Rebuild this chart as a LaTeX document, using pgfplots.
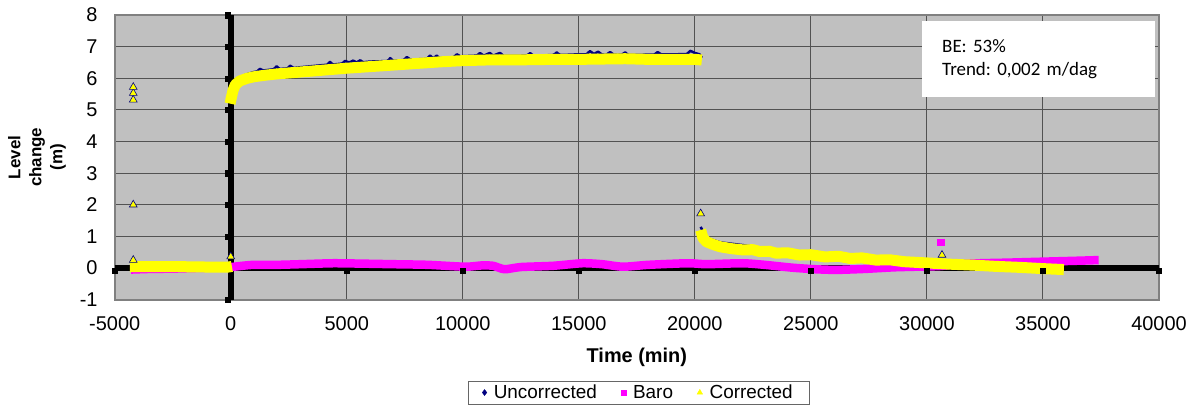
\documentclass[border=0pt]{standalone}
\usepackage{fontspec}
\setmainfont{Liberation Sans}
\newfontfamily\calibri{Carlito}
\usepackage{pgfplots}
\pgfplotsset{compat=1.18}
\definecolor{bggray}{HTML}{C0C0C0}
\definecolor{navyx}{HTML}{000080}
\definecolor{magx}{HTML}{FF00FF}
\definecolor{yelx}{HTML}{FFFF00}
\frenchspacing
\begin{document}
\begin{tikzpicture}[x=1bp,y=1bp]
\path[use as bounding box] (0,0) rectangle (1195,410);
\begin{axis}[
  at={(114.7bp,110.4bp)}, anchor=south west,
  scale only axis, width=1044.3bp, height=284.5bp,
  xmin=-5000, xmax=40000, ymin=-1, ymax=8,
  xtick={-5000,0,5000,10000,15000,20000,25000,30000,35000,40000},
  ytick={-1,0,1,2,3,4,5,6,7,8},
  scaled x ticks=false,
  major tick length=0pt,
  /pgf/number format/assume math mode=true,
  /pgf/number format/1000 sep={},
  ticklabel style={font=\fontsize{20}{23}\selectfont},
  xticklabel style={anchor=north, inner sep=0pt, yshift=-17bp},
  yticklabel style={anchor=east, inner sep=0pt, xshift=-17bp},
  axis background/.style={fill=bggray},
  grid=major,
  major grid style={black!68, line width=1bp},
  axis line style={black!50, line width=2bp},
  xlabel={Time (min)},
  xlabel style={font=\bfseries\fontsize{20}{24}\selectfont, at={(axis description cs:0.5,-0.202)}, anchor=center},
  ylabel={Level\\change\\(m)},
  ylabel style={align=center, font=\bfseries\fontsize{17}{21}\selectfont, at={(axis description cs:-0.0744,0.5)}, anchor=center},
  legend style={at={(axis description cs:0.5016,-0.3266)}, anchor=center, draw=black!60, fill=white,
    font=\fontsize{19}{22}\selectfont, inner xsep=14bp, inner ysep=2bp,
    /tikz/every odd column/.append style={column sep=5bp},
    /tikz/every even column/.append style={column sep=22bp}},
  legend columns=3,
  legend cell align=left,
  legend image code/.code={\draw[#1] plot coordinates {(0.22cm,0cm)};},
]
% legend entries
\addlegendimage{only marks, mark=diamond*, mark size=3bp, color=navyx}
\addlegendentry{Uncorrected}
\addlegendimage{only marks, mark=square*, mark size=2.6bp, color=magx}
\addlegendentry{Baro}
\addlegendimage{only marks, mark=triangle*, mark size=3.2bp, color=yelx}
\addlegendentry{Corrected}

% axis lines through zero
\addplot[black, line width=6bp, forget plot] coordinates {(-5000,0)(40000,0)};
\addplot[black, line width=6bp, forget plot] coordinates {(0,-1)(0,8)};
\addplot[only marks, mark=square*, black, mark size=2.6bp, mark options={yshift=-3bp}, forget plot]
  coordinates {(-5000,0)(5000,0)(10000,0)(15000,0)(20000,0)(25000,0)(30000,0)(35000,0)(40000,0)};
\addplot[only marks, mark=square*, black, mark size=2.6bp, mark options={xshift=-3bp}, forget plot]
  coordinates {(0,-1)(0,1)(0,2)(0,3)(0,4)(0,5)(0,6)(0,7)(0,8)};

% Uncorrected (navy)
\addplot[navyx, line width=2.5bp, line join=round, smooth, tension=0.3, forget plot] coordinates {
(-4300,0.08)(-3000,0.06)(-2900,0.15)(-2800,0.07)(-1900,0.06)(-1800,0.15)(-1700,0.06)(-1450,0.14)(-1350,0.06)(-100,0.06)(0,0.1)};
\addplot[navyx, line width=2.5bp, line join=round, smooth, tension=0.3, forget plot] coordinates {
(0,5.3)(100,5.7)(300,5.95)(600,6.1)(1000,6.2)(1150,6.22)(1260,6.3)(1400,6.25)(1850,6.29)(1980,6.38)(2100,6.3)(2450,6.32)(2560,6.4)(2700,6.33)(3000,6.35)(4000,6.42)(4150,6.43)(4280,6.52)(4400,6.44)(4800,6.47)(4930,6.55)(5100,6.5)(5280,6.56)(5420,6.5)(5580,6.57)(5700,6.51)(6000,6.53)(6750,6.55)(6870,6.64)(7000,6.56)(7450,6.58)(7590,6.67)(7750,6.59)(8000,6.6)(8450,6.62)(8590,6.72)(8720,6.63)(8880,6.72)(9000,6.64)(9600,6.67)(9740,6.76)(9900,6.69)(10000,6.7)(10600,6.72)(10740,6.8)(10900,6.72)(11170,6.8)(11300,6.72)(11610,6.8)(11750,6.71)(12000,6.71)(12750,6.72)(12900,6.8)(13050,6.72)(13900,6.74)(14050,6.82)(14200,6.74)(15000,6.76)(15330,6.76)(15480,6.86)(15650,6.77)(15830,6.84)(16000,6.75)(16200,6.75)(16350,6.83)(16500,6.75)(16850,6.75)(17000,6.82)(17150,6.74)(18000,6.75)(18250,6.75)(18400,6.83)(18550,6.76)(19000,6.76)(19650,6.77)(19800,6.87)(20000,6.8)(20200,6.76)(20300,6.65)};
\addplot[navyx, line width=2.5bp, line join=round, forget plot] coordinates {
(20250,1.3)(20500,0.95)(21100,0.81)(22100,0.72)(23500,0.55)(24500,0.41)(25600,0.3)(26700,0.25)(27800,0.24)(29000,0.23)(30000,0.21)(31000,0.22)(32000,0.22)(33000,0.2)(34000,0.2)(35000,0.18)(35900,0.17)};

% Baro (magenta)
\addplot[magx, line width=8.5bp, line join=round, smooth, tension=0.4, forget plot] coordinates {
(-4300,-0.05)(-3500,-0.03)(-2500,-0.02)(-1500,0.0)(-500,0.02)(0,0.03)(500,0.07)(1000,0.1)(2000,0.1)(3000,0.12)(4400,0.15)(5500,0.14)(7000,0.12)(8500,0.1)(10100,0.04)(10800,0.08)(11300,0.07)(11800,-0.04)(12500,0.03)(13900,0.07)(15150,0.15)(16000,0.12)(16900,0.04)(18000,0.1)(19700,0.15)(20500,0.12)(22050,0.15)(23000,0.1)(24200,0.01)(25200,-0.04)(26100,-0.06)(27300,-0.03)(28550,0.02)(29500,0.04)(30500,0.06)(31500,0.12)(32300,0.15)(33500,0.17)(35000,0.2)(36500,0.23)(37400,0.25)};

% Corrected (yellow)
\addplot[yelx, line width=11bp, line join=round, forget plot] coordinates {
(-4350,0.04)(-3000,0.04)(-2000,0.04)(-1000,0.03)(-100,0.03)(50,0.05)};
\addplot[yelx, line width=11bp, line join=round, forget plot] coordinates {
(-30,5.2)(30,5.4)(100,5.62)(200,5.8)(400,5.92)(700,6.0)(1000,6.05)(1500,6.1)(2000,6.14)(3000,6.2)(4000,6.26)(5000,6.32)(6000,6.37)(7000,6.42)(8000,6.47)(9000,6.52)(10000,6.56)(11000,6.58)(12000,6.58)(13000,6.59)(14000,6.6)(15000,6.6)(16000,6.61)(17000,6.62)(18000,6.6)(19000,6.6)(20000,6.6)(20300,6.58)};
\addplot[yelx, line width=11bp, line join=round, forget plot] coordinates {
(20250,1.2)(20350,0.95)(20500,0.83)(20800,0.74)(21100,0.67)(21600,0.61)(22100,0.57)(22500,0.58)(22800,0.52)(23200,0.53)(23500,0.47)(24000,0.48)(24500,0.41)(25000,0.42)(25600,0.35)(26200,0.37)(26700,0.3)(27200,0.32)(27800,0.25)(28400,0.26)(29000,0.2)(30000,0.16)(31000,0.12)(32000,0.09)(33000,0.05)(34000,0.02)(35000,-0.02)(35900,-0.05)};

% isolated points
\addplot[only marks, mark=square*, mark size=3.3bp, color=magx, forget plot] coordinates {(30600,0.82)};
\addplot[only marks, mark=triangle*, mark size=4.5bp, mark options={fill=yelx, draw=navyx, line width=0.6bp}, forget plot]
  coordinates {(-4200,0.25)(-4200,2.0)(-4200,5.32)(-4200,5.53)(-4200,5.72)(0,0.36)(20250,1.72)(30650,0.41)};
\end{axis}
\node[fill=white, anchor=north west, inner xsep=20bp, inner ysep=0pt, text width=193bp, minimum height=76bp, align=left,
  font=\calibri\fontsize{19}{24}\selectfont] at (922,389) {BE: 53\%\\Trend: 0,002 m/dag};
\end{tikzpicture}
\end{document}
